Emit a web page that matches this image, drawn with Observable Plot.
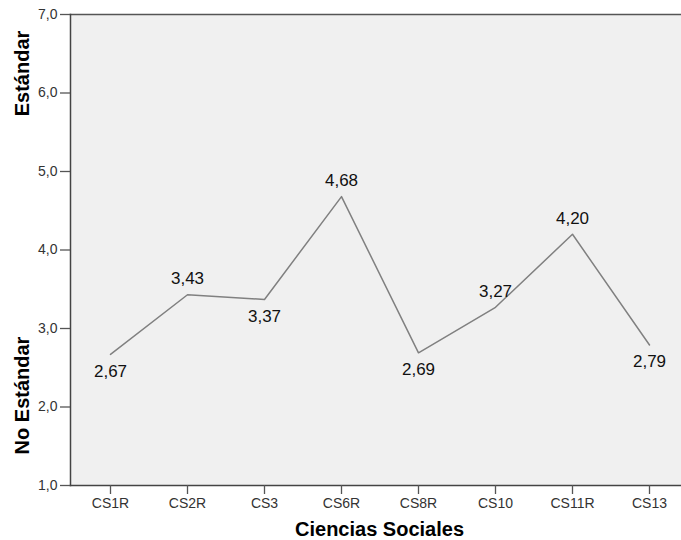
<!DOCTYPE html>
<html>
<head>
<meta charset="utf-8">
<script src="https://cdn.jsdelivr.net/npm/d3@7"></script>
<script src="https://cdn.jsdelivr.net/npm/@observablehq/plot@0.6"></script>
<style>
  html, body { margin: 0; padding: 0; background: #ffffff; }
  #chart { width: 681px; height: 540px; }
</style>
</head>
<body>
<div id="chart"></div>
<script>
// Data
const categories = ["CS1R", "CS2R", "CS3", "CS6R", "CS8R", "CS10", "CS11R", "CS13"];
const means = [2.67, 3.43, 3.37, 4.68, 2.69, 3.27, 4.20, 2.79];
const labelSide = ["below", "above", "below", "above", "below", "above", "above", "below"];
const yTicks = [1, 2, 3, 4, 5, 6, 7];

const data = categories.map((c, i) => ({cat: c, value: means[i], side: labelSide[i]}));
const fmt = v => v.toFixed(2).replace(".", ",");
const fmtTick = v => v.toFixed(1).replace(".", ",");
const font = "'Liberation Sans', Arial, Helvetica, sans-serif";

const chart = Plot.plot({
  width: 681,
  height: 540,
  marginLeft: 70,
  marginTop: 14,
  marginBottom: 55,
  marginRight: 0,
  style: {fontFamily: font, background: "#ffffff", overflow: "hidden"},
  x: {type: "point", domain: categories, range: [70, 688], padding: 0.5},
  y: {domain: [1, 7], range: [485, 14]},
  marks: [
    Plot.frame({fill: "#f0f0f0", stroke: null}),
    Plot.frame({anchor: "top", stroke: "#555", strokeWidth: 1.5}),
    Plot.frame({anchor: "left", stroke: "#444", strokeWidth: 1.5}),
    Plot.frame({anchor: "bottom", stroke: "#444", strokeWidth: 1.5}),
    Plot.axisX({tickSize: 9, tickPadding: 4, fontSize: 14, label: null, color: "#333", stroke: "#555", strokeWidth: 1.3}),
    Plot.axisY({ticks: yTicks, tickSize: 10, tickPadding: 3, tickFormat: fmtTick, fontSize: 14, label: null, color: "#333", stroke: "#555", strokeWidth: 1.3}),
    Plot.line(data, {x: "cat", y: "value", stroke: "#808080", strokeWidth: 1.5}),
    Plot.text(data.filter(d => d.side === "above"), {x: "cat", y: "value", text: d => fmt(d.value), dy: -16, fontSize: 17, fill: "#111"}),
    Plot.text(data.filter(d => d.side === "below"), {x: "cat", y: "value", text: d => fmt(d.value), dy: 17, fontSize: 17, fill: "#111"}),
    Plot.text(["Estándar"], {frameAnchor: "top-left", textAnchor: "middle", lineAnchor: "middle", text: d => d, rotate: -90, dx: -48, dy: 59, fontSize: 20, fontWeight: "bold", fill: "#000"}),
    Plot.text(["No Estándar"], {frameAnchor: "bottom-left", textAnchor: "middle", lineAnchor: "middle", text: d => d, rotate: -90, dx: -48, dy: -90, fontSize: 20, fontWeight: "bold", fill: "#000"}),
    Plot.text(["Ciencias Sociales"], {frameAnchor: "bottom", textAnchor: "middle", lineAnchor: "middle", text: d => d, dx: 3.5, dy: 44, fontSize: 20, fontWeight: "bold", fill: "#000"})
  ]
});
document.getElementById("chart").appendChild(chart);
</script>
</body>
</html>
